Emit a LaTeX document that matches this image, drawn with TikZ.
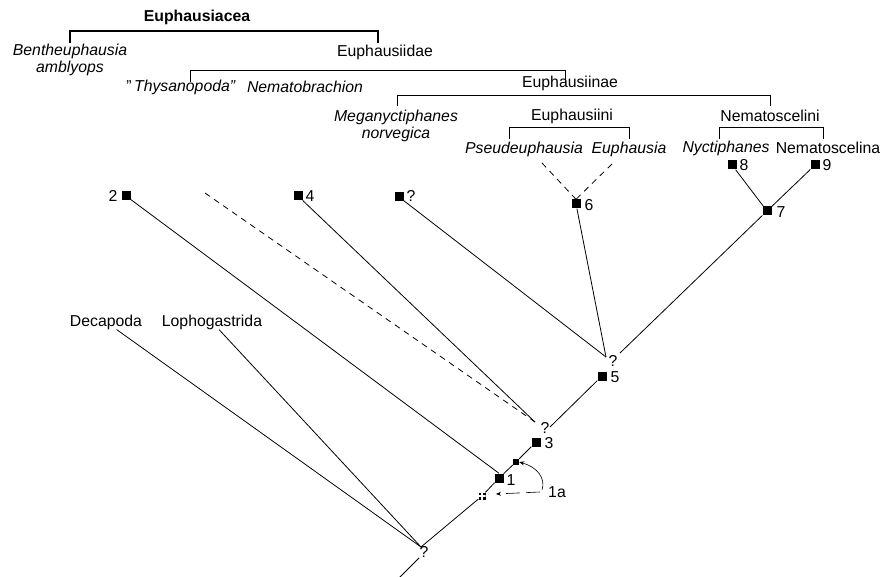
\documentclass[tikz,border=0pt]{standalone}
\usepackage{fontspec}
\setmainfont{Liberation Sans}
\usetikzlibrary{arrows.meta}
\newcommand\fsz{\fontsize{15.8}{16.5}\selectfont}
\begin{document}
\begin{tikzpicture}[x=1pt,y=-1pt,
  every node/.style={font=\fsz, inner sep=0pt},
  it/.style={font=\fsz\itshape},
  sq/.style={fill=black, minimum size=9pt, inner sep=0pt},
  lbl/.style={font=\fsz},
  br/.style={line width=0.8pt},
  ln/.style={line width=0.8pt},
  dl/.style={line width=0.8pt, dash pattern=on 6pt off 5pt},
]
\useasboundingbox (0,0) rectangle (885,577);

% ---- classification brackets ----
\node[font=\fsz\bfseries] (euphausiacea) at (197,17) {Euphausiacea};
\draw[line width=1.7pt] (70,43) |- (378,31) -- (378,43);
\node[it, align=center] (bentheu) at (70,60) {Bentheuphausia\\amblyops};

\node (euphausiidae) at (385,52) {Euphausiidae};
\draw[br] (190,82) |- (565,70) -- (565,83);
\node (thysa) at (181,87) {"\,\textit{Thysanopoda"}};
\node[it] (nemabr) at (305,87) {Nematobrachion};

\node (euphausiinae) at (570,83) {Euphausiinae};
\draw[br] (397,106) |- (770,95) -- (770,106);
\node[it, align=center] (megan) at (396,126) {Meganyctiphanes\\norvegica};

\node (euphausiini) at (572,116) {Euphausiini};
\draw[br] (509,139) |- (629,127) -- (629,139);
\node (nematoscelini) at (770,116) {Nematoscelini};
\draw[br] (719,139) |- (823,127) -- (823,139);

\node[it] (pseudeu) at (524,149) {Pseudeuphausia};
\node[it] (euph) at (629,149) {Euphausia};
\node[it] (nyct) at (726,148) {Nyctiphanes};
\node (nemasc) at (828,148) {Nematoscelina};

% ---- outgroups ----
\node (decapoda) at (106,322) {Decapoda};
\node (lopho) at (212,322) {Lophogastrida};

% ---- character squares ----
\node[sq] (s2) at (126,196) {};
\node[sq] (s4) at (298,196) {};
\node[sq] (sq) at (399,197) {};
\node[sq] (s6) at (576,204) {};
\node[sq] (s8) at (732,165) {};
\node[sq] (s9) at (815,165) {};
\node[sq] (s7) at (767,211) {};
\node[sq] (s5) at (602,376) {};
\node[sq] (s3) at (536,442) {};
\node[sq] (s1) at (499,478) {};
\node[fill=black, minimum size=6pt] (a1) at (516,462) {};
\node[fill=black, minimum size=7pt,
  path picture={\draw[white, line width=1.1pt]
    (path picture bounding box.north) -- (path picture bounding box.south)
    (path picture bounding box.west) -- (path picture bounding box.east);}] (a0) at (482,496) {};

% ---- labels ----
\node[lbl] (l2) at (113,196) {2};
\node[lbl] (l4) at (310,196) {4};
\node[lbl] (lq) at (411,196) {?};
\node[lbl] (l6) at (589,205) {6};
\node[lbl] (l7) at (781,212) {7};
\node[lbl] (l8) at (744,165) {8};
\node[lbl] (l9) at (827,165) {9};
\node[lbl] (l5) at (615,377) {5};
\node[lbl] (l3) at (549,443) {3};
\node[lbl] (l1) at (511,480) {1};
\node[lbl] (l1a) at (557,492) {1a};
\node[lbl] (q5) at (613,361) {?};
\node[lbl] (q3) at (545,428) {?};
\node[lbl] (q0) at (424,552) {?};

% ---- junction points ----
\coordinate (j5l) at (606,357);
\coordinate (j5r) at (620,353);
\coordinate (j3l) at (535,422);
\coordinate (j3r) at (550,427);
\coordinate (j0) at (421,547);
\coordinate (j0b) at (419,558);
\coordinate (bottom) at (399,578);
\coordinate (dstart) at (205,193);
\coordinate (pe) at (542,163);
\coordinate (eu) at (612,164);

% ---- tree ----
\draw[ln] (s8) -- (s7);
\draw[ln] (s9) -- (s7);
\draw[dl] (pe) -- (s6.north);
\draw[dl] (eu) -- (s6.north);
\draw[ln] (s6) -- (j5l);
\draw[ln] (sq) -- (j5l);
\draw[ln] (s7) -- (j5r);
\draw[ln] (s5) -- (j3r);
\draw[ln] (s4) -- (j3l);
\draw[dl] (dstart) -- (j3l);
\draw[ln] (s3) -- (a1) -- (s1) -- (a0) -- (j0);
\draw[ln] (s2) -- (s1.north);
\draw[ln] (decapoda) -- (j0);
\draw[ln] (lopho) -- (j0);
\draw[ln] (j0b) -- (bottom);

% ---- 1a pointers ----
\coordinate (c1) at (542,490);
\coordinate (c2) at (540,492);
\coordinate (c3) at (496,494);
\draw[line width=0.6pt, -{Stealth[length=5pt,width=4pt]}] (c1) .. controls (546,478) and (537,467) .. (a1.east);
\draw[line width=0.6pt, dash pattern=on 14pt off 6pt, -{Stealth[length=5pt,width=4pt]}] (c2) -- (c3);
\end{tikzpicture}
\end{document}
